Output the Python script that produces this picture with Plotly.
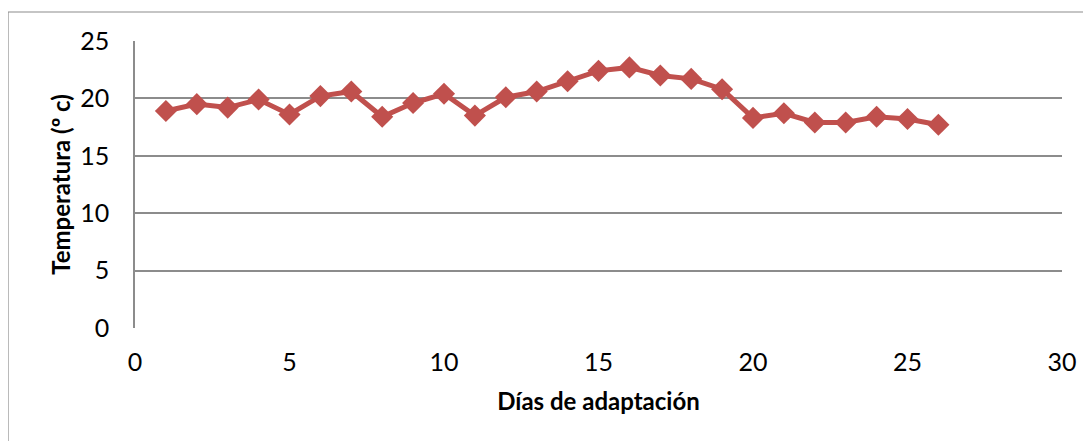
import plotly.graph_objects as go

days = list(range(1, 27))
temperatura = [18.9, 19.5, 19.2, 19.9, 18.6, 20.2, 20.6, 18.4, 19.6, 20.4,
               18.5, 20.1, 20.6, 21.5, 22.4, 22.7, 22.0, 21.7, 20.8, 18.3,
               18.7, 17.9, 17.9, 18.4, 18.2, 17.7]

x_ticks = [0, 5, 10, 15, 20, 25, 30]
y_ticks = [0, 5, 10, 15, 20, 25]

red = "#C0504D"
grid = "#8C8C8C"
font = "Lato, Open Sans, sans-serif"

# page body has an 8px margin: figure is 1083x433 placed at (8, 8)
L, T, R, B = 127, 33, 29, 113
W, H = 1083, 433
pw, ph = W - L - R, H - T - B

fig = go.Figure()
fig.add_trace(go.Scatter(
    x=days, y=temperatura, mode="lines+markers",
    line=dict(color=red, width=5),
    marker=dict(symbol="diamond", size=17, color=red),
    showlegend=False,
))

fig.update_layout(
    width=W, height=H,
    margin=dict(l=L, r=R, t=T, b=B),
    plot_bgcolor="white", paper_bgcolor="white",
    font=dict(family=font, size=25, color="black"),
    xaxis=dict(range=[0, 30], tickvals=x_ticks, showgrid=False,
               showline=False, zeroline=False, ticks="",
               ticklabelstandoff=17,
               title=dict(text="<b>Días de adaptación</b>", font=dict(size=24), standoff=18)),
    yaxis=dict(range=[0, 25], tickvals=y_ticks, showgrid=True,
               gridcolor=grid, gridwidth=1.5, zeroline=False,
               showline=True, linecolor=grid, linewidth=1.5, ticks="",
               ticklabelstandoff=19,
               title=dict(text="<b>Temperatura (º c)</b>", font=dict(size=24), standoff=3)),
    shapes=[dict(type="rect", xref="paper", yref="paper",
                 x0=(0 - L) / pw, x1=(W - 3 - L) / pw,
                 y0=-0.6, y1=1 + (T - 4) / ph,
                 line=dict(color="#8C8C8C", width=1.2), layer="below")],
)

fig.write_html("out.html")
